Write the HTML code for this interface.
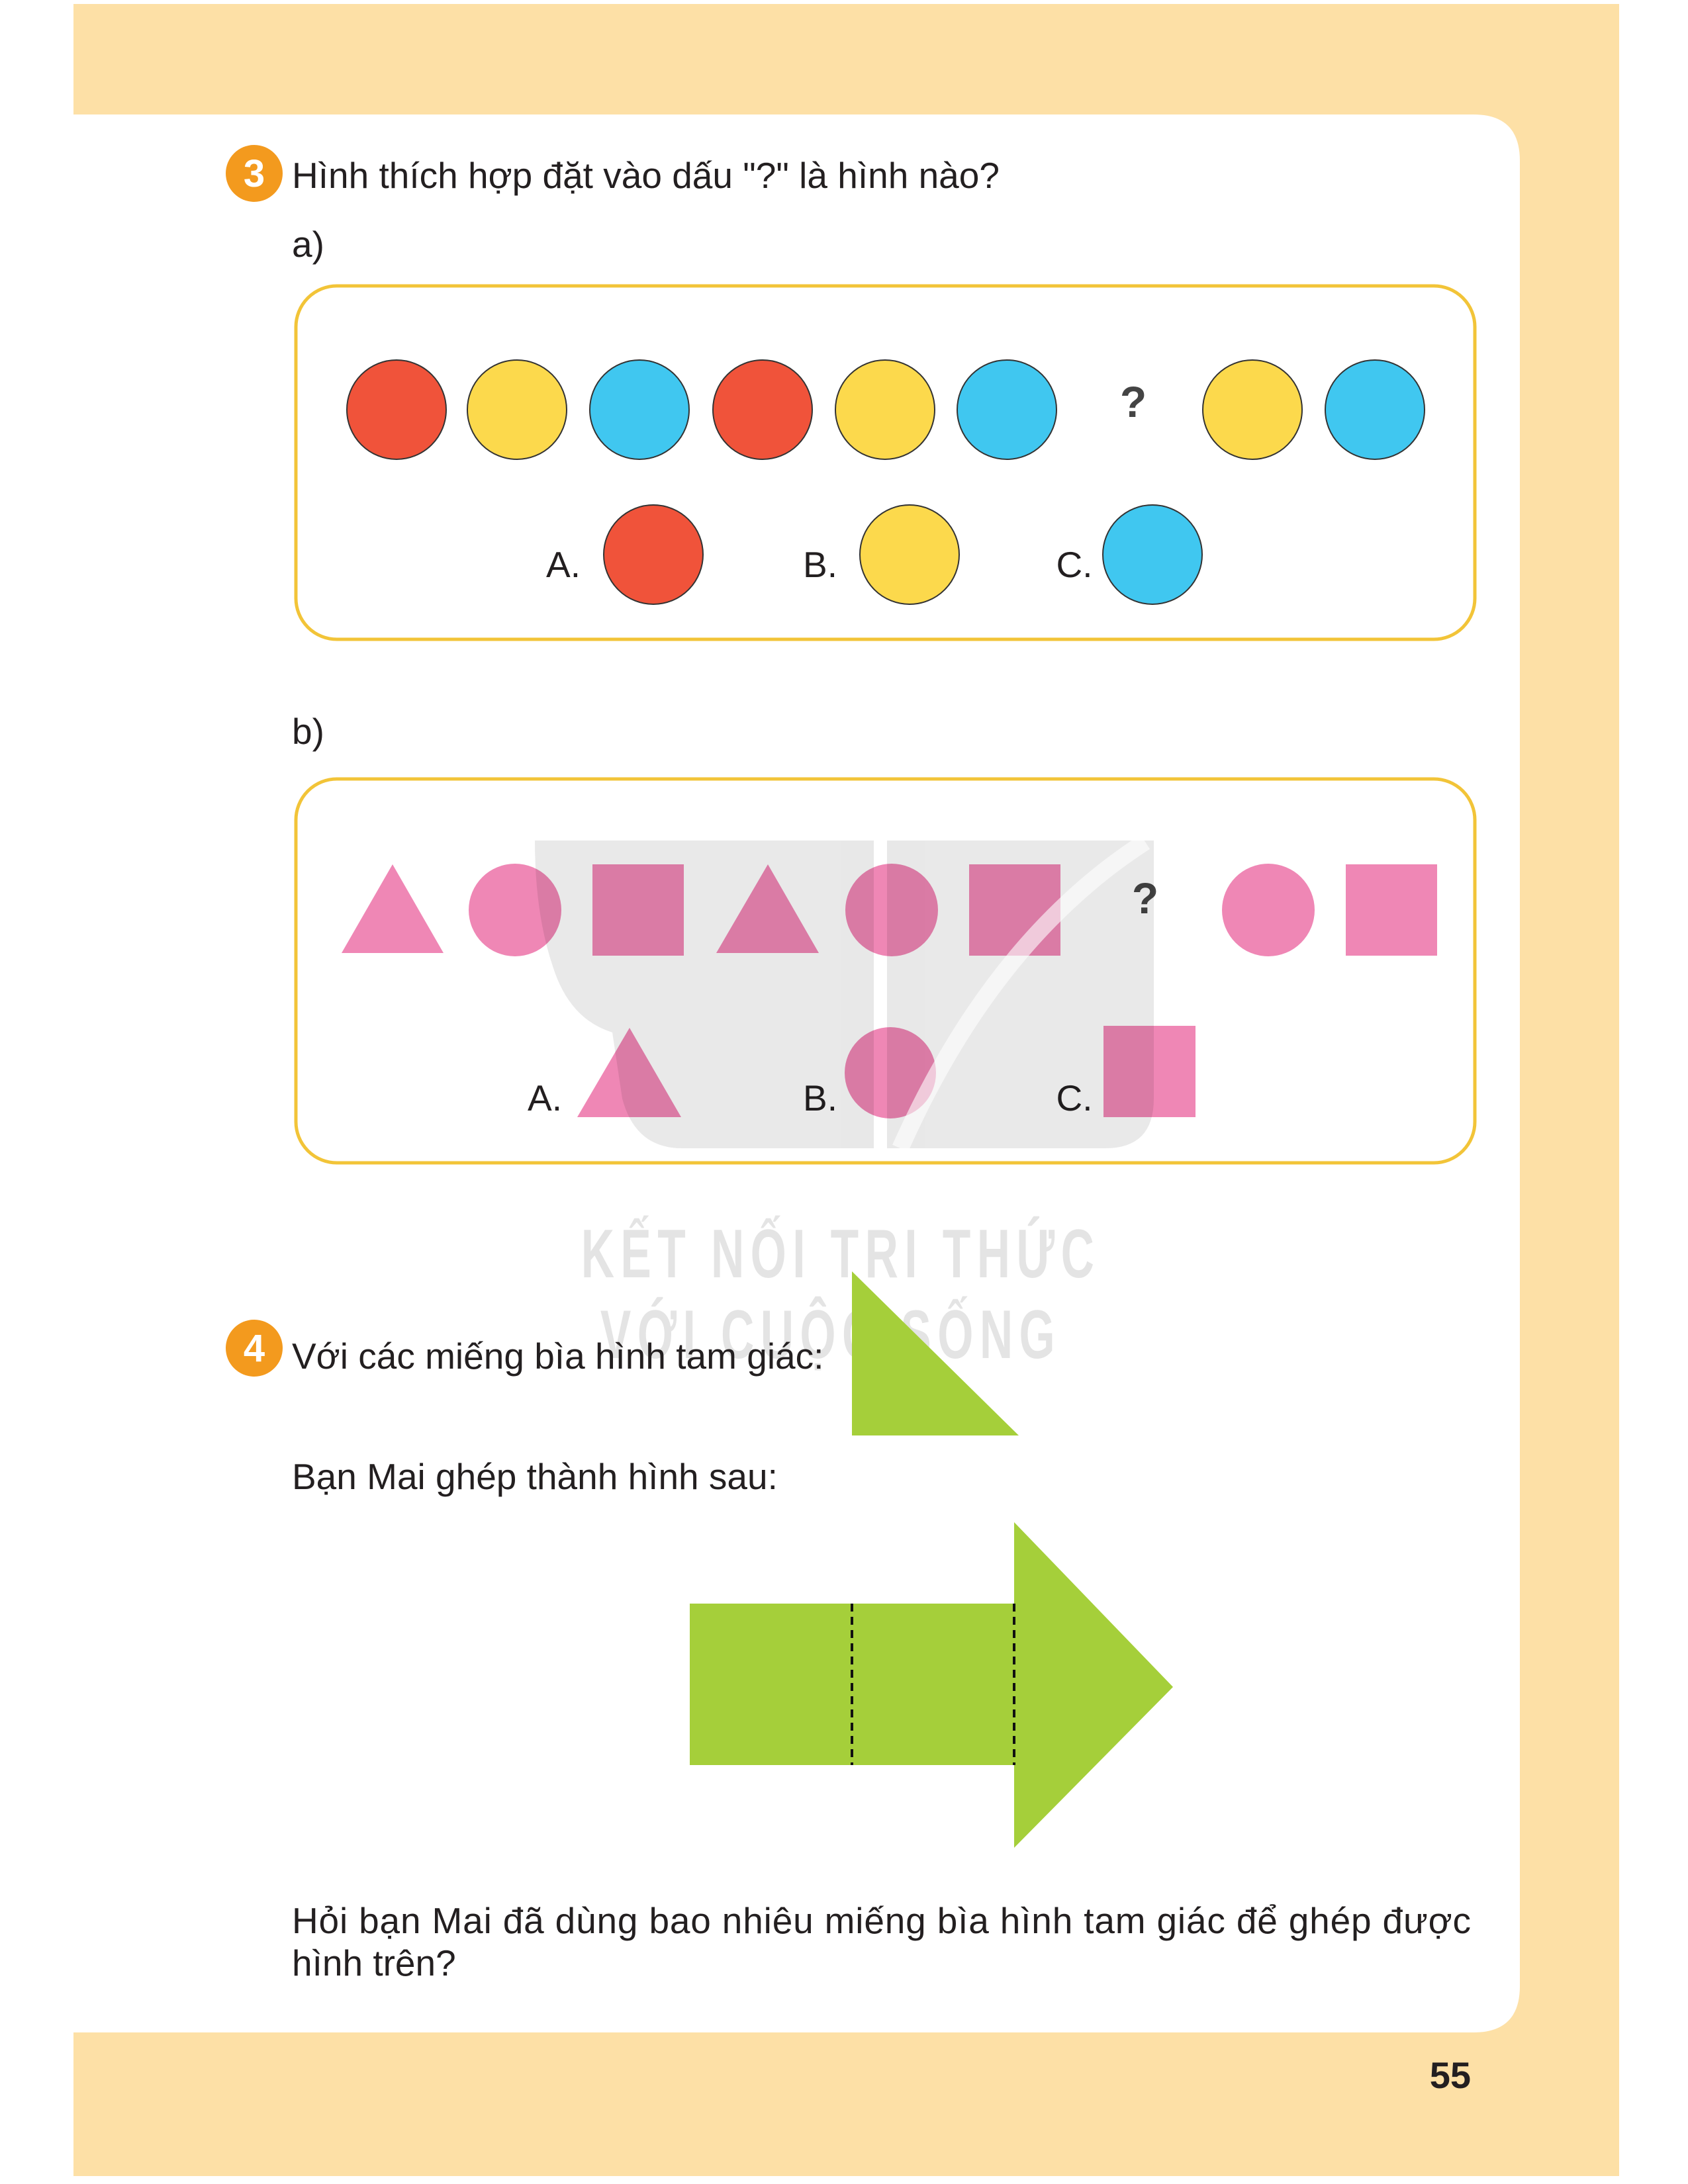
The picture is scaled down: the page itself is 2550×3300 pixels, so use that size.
<!DOCTYPE html>
<html><head><meta charset="utf-8"><style>
html,body{margin:0;padding:0;background:#fff;}
svg{display:block;}
text{font-family:"Liberation Sans",Arial,sans-serif;}
</style></head><body>
<svg width="2550" height="3300" viewBox="0 0 2550 3300" xmlns="http://www.w3.org/2000/svg">
<rect x="111" y="6" width="2335" height="3282" fill="#fde0a6"/>
<path d="M111 173 H2226 Q2296 173 2296 243 V3001 Q2296 3071 2226 3071 H111 Z" fill="#ffffff"/>

<circle cx="384" cy="262" r="43" fill="#f39a1e"/>
<text x="384" y="282" font-size="58" font-weight="bold" fill="#fff" text-anchor="middle">3</text>
<text x="441" y="284" font-size="55" fill="#231f20">Hình thích hợp đặt vào dấu "?" là hình nào?</text>
<text x="441" y="388" font-size="55" fill="#231f20">a)</text>

<rect x="447" y="432" width="1781" height="534" rx="62" fill="none" stroke="#f2c438" stroke-width="5"/>
<g stroke="#333" stroke-width="2">
<circle cx="599" cy="619" r="75" fill="#f0533a"/>
<circle cx="781" cy="619" r="75" fill="#fcd94c"/>
<circle cx="966" cy="619" r="75" fill="#40c7f0"/>
<circle cx="1152" cy="619" r="75" fill="#f0533a"/>
<circle cx="1337" cy="619" r="75" fill="#fcd94c"/>
<circle cx="1521" cy="619" r="75" fill="#40c7f0"/>
<circle cx="1892" cy="619" r="75" fill="#fcd94c"/>
<circle cx="2077" cy="619" r="75" fill="#40c7f0"/>
</g>
<text x="1712" y="630" font-size="66" font-weight="bold" fill="#444" text-anchor="middle">?</text>
<text x="851" y="872" font-size="55" fill="#231f20" text-anchor="middle">A.</text>
<circle cx="987" cy="838" r="75" fill="#f0533a" stroke="#333" stroke-width="2"/>
<text x="1239" y="872" font-size="55" fill="#231f20" text-anchor="middle">B.</text>
<circle cx="1374" cy="838" r="75" fill="#fcd94c" stroke="#333" stroke-width="2"/>
<text x="1623" y="872" font-size="55" fill="#231f20" text-anchor="middle">C.</text>
<circle cx="1741" cy="838" r="75" fill="#40c7f0" stroke="#333" stroke-width="2"/>

<text x="441" y="1124" font-size="55" fill="#231f20">b)</text>
<rect x="447" y="1177" width="1781" height="580" rx="62" fill="none" stroke="#f2c438" stroke-width="5"/>

<g fill="#ef87b5">
<polygon points="593,1306 516,1440 670,1440"/>
<ellipse cx="778" cy="1375" rx="70" ry="70"/>
<rect x="895" y="1306" width="138" height="138"/>
<polygon points="1160,1306 1082,1440 1237,1440"/>
<ellipse cx="1347" cy="1375" rx="70" ry="70"/>
<rect x="1464" y="1306" width="138" height="138"/>
<ellipse cx="1916" cy="1375" rx="70" ry="70"/>
<rect x="2033" y="1306" width="138" height="138"/>
<polygon points="951,1553 872,1688 1029,1688"/>
<ellipse cx="1345" cy="1621" rx="69" ry="69"/>
<rect x="1667" y="1550" width="139" height="138"/>
</g>
<text x="1730" y="1380" font-size="66" font-weight="bold" fill="#444" text-anchor="middle">?</text>
<text x="823" y="1678" font-size="55" fill="#231f20" text-anchor="middle">A.</text>
<text x="1239" y="1678" font-size="55" fill="#231f20" text-anchor="middle">B.</text>
<text x="1623" y="1678" font-size="55" fill="#231f20" text-anchor="middle">C.</text>

<g fill="#000" opacity="0.085">
<path d="M808 1270 H1320 V1735 H1030 Q960 1735 940 1660 L925 1560 Q860 1540 835 1460 Q808 1380 808 1270 Z"/>
<path d="M1340 1270 H1743 V1660 Q1743 1735 1670 1735 H1340 Z"/>
</g>
<path d="M1730 1272 Q1500 1420 1360 1735" fill="none" stroke="#fff" stroke-width="26" opacity="0.6"/>
<g fill="#000" opacity="0.1" font-weight="bold" font-size="104" letter-spacing="14">
<text x="1270" y="1930" text-anchor="middle" transform="translate(1270 0) scale(0.67 1) translate(-1270 0)">KẾT NỐI TRI THỨC</text>
<text x="1255" y="2052" text-anchor="middle" transform="translate(1255 0) scale(0.67 1) translate(-1255 0)">VỚI CUỘC SỐNG</text>
</g>

<circle cx="384" cy="2037" r="43" fill="#f39a1e"/>
<text x="384" y="2057" font-size="58" font-weight="bold" fill="#fff" text-anchor="middle">4</text>
<text x="441" y="2068" font-size="55" fill="#231f20">Với các miếng bìa hình tam giác:</text>
<polygon points="1287,1921 1287,2169 1539,2169" fill="#a5cf3a"/>

<text x="441" y="2250" font-size="55" fill="#231f20">Bạn Mai ghép thành hình sau:</text>
<g>
<rect x="1042" y="2423" width="494" height="244" fill="#a5cf3a"/>
<polygon points="1532,2300 1772,2549 1532,2792" fill="#a5cf3a"/>
<line x1="1287" y1="2423" x2="1287" y2="2667" stroke="#111" stroke-width="4" stroke-dasharray="12 8"/>
<line x1="1532" y1="2423" x2="1532" y2="2667" stroke="#111" stroke-width="4" stroke-dasharray="12 8"/>
</g>

<text x="441" y="2921" font-size="55" fill="#231f20" textLength="1781" lengthAdjust="spacing">Hỏi bạn Mai đã dùng bao nhiêu miếng bìa hình tam giác để ghép được</text>
<text x="441" y="2985" font-size="55" fill="#231f20">hình trên?</text>

<text x="2222" y="3155" font-size="56" font-weight="bold" fill="#231f20" text-anchor="end">55</text>
</svg>
</body></html>
